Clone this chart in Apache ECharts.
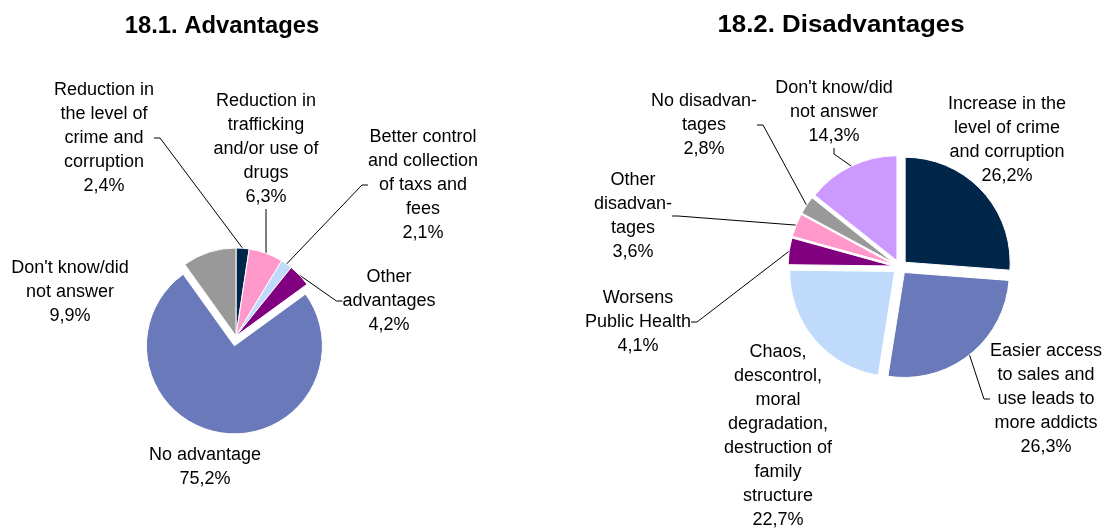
<!DOCTYPE html>
<html>
<head>
<meta charset="utf-8">
<script src="https://cdn.jsdelivr.net/npm/echarts@6/dist/echarts.min.js"></script>
<style>
  html, body { margin: 0; padding: 0; background: #ffffff; }
  #chart { width: 1113px; height: 531px; }
</style>
</head>
<body>
<div id="chart"></div>
<script>
// 18.1 Advantages
const advNames = [
  "Reduction in\nthe level of\ncrime and\ncorruption",
  "Reduction in\ntrafficking\nand/or use of\ndrugs",
  "Better control\nand collection\nof taxs and\nfees",
  "Other\nadvantages",
  "No advantage",
  "Don't know/did\nnot answer"
];
const advValues = [2.4, 6.3, 2.1, 4.2, 75.2, 9.9];

// 18.2 Disadvantages
const disNames = [
  "Increase in the\nlevel of crime\nand corruption",
  "Easier access\nto sales and\nuse leads to\nmore addicts",
  "Chaos,\ndescontrol,\nmoral\ndegradation,\ndestruction of\nfamily\nstructure",
  "Worsens\nPublic Health",
  "Other\ndisadvan-\ntages",
  "No disadvan-\ntages",
  "Don't know/did\nnot answer"
];
const disValues = [26.2, 26.3, 22.7, 4.1, 3.6, 2.8, 14.3];

// styling
const advColors = ["#00264a", "#ff99cc", "#bfdafb", "#800080", "#6a79b9", "#999999"];
const disColors = ["#00264a", "#6a79b9", "#bfdafb", "#800080", "#ff99cc", "#999999", "#cc99ff"];
const advExplode = [0, 0, 0, 0, 10, 0];          // px each slice is pulled out
const disExplode = [7, 7, 7, 7, 7, 7, 7];
const advLeader = [true, true, true, true, false, false];
const disLeader = [false, true, false, true, true, true, true];

// label placement (centre of each text block, in px)
const advLabelPos = [[104, 138], [266, 149], [423, 185], [389, 301], [205, 467], [70, 292]];
const disLabelPos = [[1007, 140], [1046, 399], [778, 436], [638, 322], [633, 216], [704, 125], [834, 112]];

const FONT = "'Liberation Sans', Arial, Helvetica, sans-serif";

function pct(v) {
  return String(v).replace('.', ',') + '%';
}

const labelCommon = {
  show: true,
  position: 'outside',
  color: '#000',
  fontFamily: FONT,
  fontSize: 18,
  lineHeight: 24,
  align: 'center',
  formatter: p => p.name + '\n' + pct(p.value)
};

const lineCommon = {
  show: true,
  length: 0,
  length2: 6,
  smooth: false,
  lineStyle: { color: '#000', width: 1 }
};

// One pie series per slice, so every slice can be pulled out on its own.
// The rest of the circle is filled by an invisible item.
function explodedPie(names, values, colors, leader, explode, center, radius, labelPos) {
  const total = values.reduce((a, b) => a + b, 0);
  let cum = 0;
  return values.map((v, i) => {
    const startDeg = cum / total * 360;       // clockwise from 12 o'clock
    cum += v;
    const mid = (startDeg + v / total * 180) * Math.PI / 180;
    const d = explode[i];
    return {
      type: 'pie',
      center: [center[0] + d * Math.sin(mid), center[1] - d * Math.cos(mid)],
      radius: [0, radius],
      startAngle: 90 - startDeg,
      clockwise: true,
      avoidLabelOverlap: false,
      emphasis: { disabled: true },
      itemStyle: { borderColor: '#fff', borderWidth: 1 },
      label: labelCommon,
      labelLine: lineCommon,
      labelLayout: function (params) {
        if (params.dataIndex !== 0) return {};
        const p = labelPos[i];
        return { x: p[0], y: p[1], align: 'center', verticalAlign: 'middle' };
      },
      data: [
        { name: names[i], value: v, itemStyle: { color: colors[i] }, labelLine: { show: leader[i] } },
        {
          name: '', value: total - v,
          itemStyle: { color: 'rgba(0,0,0,0)', borderWidth: 0 },
          label: { show: false }, labelLine: { show: false }
        }
      ]
    };
  });
}

const chart = echarts.init(document.getElementById('chart'), null, { renderer: 'canvas' });
chart.setOption({
  backgroundColor: '#ffffff',
  animation: false,
  tooltip: { show: false },
  graphic: [
    { type: 'text', x: 222, y: 26, style: { text: '18.1. Advantages', font: "bold 23.8px " + FONT, fill: '#000', align: 'center', verticalAlign: 'middle' } },
    { type: 'text', x: 841, y: 26, scaleX: 1.1, style: { text: '18.2. Disadvantages', font: "bold 23.5px " + FONT, fill: '#000', align: 'center', verticalAlign: 'middle' } }
  ],
  series: [].concat(
    explodedPie(advNames, advValues, advColors, advLeader, advExplode, [236, 336], 88, advLabelPos),
    explodedPie(disNames, disValues, disColors, disLeader, disExplode, [900, 267], 105, disLabelPos)
  )
});
</script>
</body>
</html>
